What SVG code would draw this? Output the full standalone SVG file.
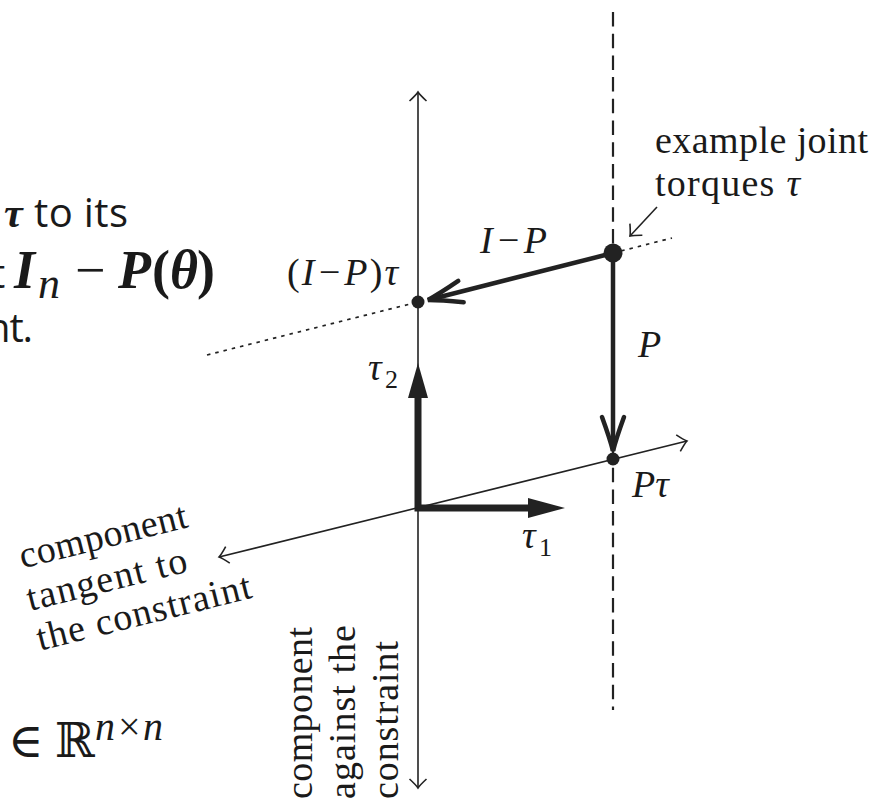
<svg xmlns="http://www.w3.org/2000/svg" width="876" height="801" viewBox="0 0 876 801">
<defs>
<style>
.ln{stroke:#222;fill:none}
.ax{stroke-width:1.6}
.thick{stroke-width:4.5}
.dash{stroke-width:2.2;stroke-dasharray:14.5 7.2}
.dot{stroke-width:1.7;stroke-dasharray:3.5 5}
.cm{font-family:"Liberation Serif","Times New Roman",serif;font-size:38px;fill:#1a1a1a}
.it{font-style:italic}
.sub{font-size:26px}
.sans{font-family:"Open Sans","Liberation Sans",sans-serif;font-size:40px;fill:#1a1a1a}
.mb{font-family:"Liberation Serif","DejaVu Serif",serif;font-weight:bold;font-style:italic;font-size:54px;fill:#1a1a1a}
.mbr{font-family:"Liberation Serif","DejaVu Serif",serif;font-weight:bold;font-size:54px;fill:#1a1a1a}
.mi{font-family:"Liberation Serif","DejaVu Serif",serif;font-style:italic;font-size:44px;fill:#1a1a1a}
.mr{font-family:"Liberation Serif","DejaVu Serif",serif;font-size:54px;fill:#1a1a1a}
.sym{font-family:"DejaVu Serif","DejaVu Sans",serif;font-size:48px;fill:#1a1a1a}
</style>
<marker id="h" viewBox="-12 -10 14 20" refX="0" refY="0" markerWidth="14" markerHeight="20" markerUnits="userSpaceOnUse" orient="auto-start-reverse"><path d="M-9,-8.5 Q-3,-2 0,0 Q-3,2 -9,8.5" fill="none" stroke="#222" stroke-width="1.6"/></marker>
<marker id="H" viewBox="-40 -15 44 30" refX="0" refY="0" markerWidth="44" markerHeight="30" markerUnits="userSpaceOnUse" orient="auto"><path d="M-34,-11 Q-12,-3 0,0 Q-12,3 -34,11" fill="none" stroke="#222" stroke-width="4.5" stroke-linecap="round"/></marker>
</defs>
<rect width="876" height="801" fill="#fff"/>
<g id="connectors">
<line class="ln dash" x1="613" y1="12" x2="613" y2="710"/>
<line class="ln ax" x1="418" y1="788" x2="418" y2="92" marker-start="url(#h)" marker-end="url(#h)"/>
<line class="ln ax" x1="219" y1="557" x2="687" y2="441" marker-start="url(#h)" marker-end="url(#h)"/>
<line class="ln dot" x1="207" y1="355" x2="418" y2="302"/>
<line class="ln dot" x1="613" y1="253" x2="672" y2="238"/>
<line class="ln ax" x1="657" y1="207" x2="630" y2="236" marker-end="url(#h)"/>
<line class="ln thick" x1="613" y1="253" x2="428" y2="300" marker-end="url(#H)"/>
<line class="ln thick" x1="613" y1="253" x2="613" y2="451" marker-end="url(#H)"/>
<path class="ln" d="M418,397 V508 H529" stroke-width="7" stroke-linejoin="miter"/>
<polygon points="418,363 408,398 428,398" fill="#222"/>
<polygon points="565,508 528,498 528,518" fill="#222"/>
</g>
<g id="points">
<circle cx="613" cy="253" r="9.5" fill="#222"/>
<circle cx="418" cy="302" r="6.5" fill="#222"/>
<circle cx="613" cy="459" r="6.5" fill="#222"/>
</g>
<g id="label-example">
<text class="cm" x="655" y="153" textLength="213">example joint</text>
<text class="cm" x="655" y="196" textLength="145">torques <tspan class="it">τ</tspan></text>
</g>
<g id="label-IminusP"><text class="cm it" x="480" y="253" textLength="67">I−P</text></g>
<g id="label-IPtau"><text class="cm" x="287" y="285" textLength="111">(<tspan class="it">I−P</tspan>)<tspan class="it">τ</tspan></text></g>
<g id="label-P"><text class="cm it" x="638" y="357">P</text></g>
<g id="label-Ptau"><text class="cm it" x="632" y="497">Pτ</text></g>
<g id="label-tau2"><text class="cm it" x="368" y="380">τ</text><text class="cm sub" x="385" y="388">2</text></g>
<g id="label-tau1"><text class="cm it" x="522" y="548">τ</text><text class="cm sub" x="539" y="556">1</text></g>
<g id="label-tangent" transform="translate(30,611) rotate(-14)">
<text class="cm" x="3" y="-43" textLength="172">component</text>
<text class="cm" x="0" y="0" textLength="164">tangent to</text>
<text class="cm" x="0" y="41" textLength="220">the constraint</text>
</g>
<g id="label-against" transform="translate(398,799) rotate(-90)">
<text class="cm" x="0" y="-86" textLength="172">component</text>
<text class="cm" x="0" y="-43" textLength="174">against the</text>
<text class="cm" x="0" y="0" textLength="158">constraint</text>
</g>
<g id="caption-left">
<text class="mb" x="4" y="227" style="font-size:42px">τ</text>
<text class="sans" x="34" y="227" textLength="94">to its</text>
<text class="sans" x="-9" y="288">t</text>
<text class="mb" x="14" y="288">I</text>
<text class="mi" x="38" y="298">n</text>
<text class="mr" x="75" y="288">−</text>
<text class="mb" x="118" y="288">P</text>
<text class="mbr" x="152" y="288">(</text>
<text class="mb" x="170" y="288">θ</text>
<text class="mbr" x="197" y="288">)</text>
<text class="sans" x="-14" y="342" textLength="47">nt.</text>
</g>
<g id="caption-bottom">
<text class="sym" x="8" y="757">∈</text>
<text class="sym" x="55" y="757">ℝ</text>
<text class="mi" x="95" y="740" style="font-size:40px" textLength="68">n×n</text>
</g>
</svg>
